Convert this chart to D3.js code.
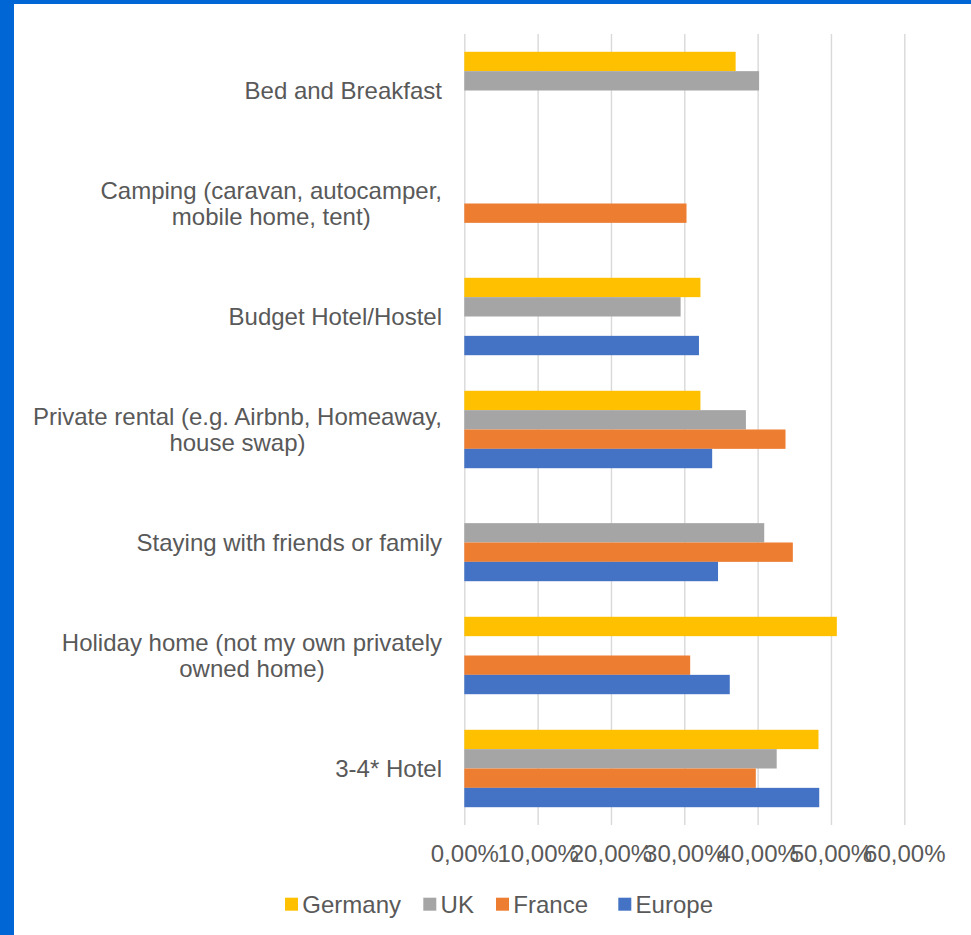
<!DOCTYPE html>
<html>
<head>
<meta charset="utf-8">
<script src="https://cdn.jsdelivr.net/npm/d3@7"></script>
<style>
  html, body { margin: 0; padding: 0; background: #fff; }
  svg { display: block; }
  text { font-family: "Liberation Sans", Arial, sans-serif; fill: #595959; }
</style>
</head>
<body>
<svg id="chart" width="971" height="935"></svg>
<script>
// Accommodation types, listed top to bottom ("\n" marks a wrapped line)
const categories = [
  "Bed and Breakfast",
  "Camping (caravan, autocamper,\nmobile home, tent)",
  "Budget Hotel/Hostel",
  "Private rental (e.g. Airbnb, Homeaway,\nhouse swap)",
  "Staying with friends or family",
  "Holiday home (not my own privately\nowned home)",
  "3-4* Hotel"
];

const seriesNames = ["Germany", "UK", "France", "Europe"];
const seriesColors = ["#FFC000", "#A5A5A5", "#ED7D31", "#4472C4"];

// Share per category (null = no bar)
const germany = [0.370, null, 0.322, 0.322, null, 0.508, 0.483];
const uk      = [0.402, null, 0.295, 0.384, 0.409, null, 0.426];
const france  = [null, 0.303, null, 0.438, 0.448, 0.308, 0.3975];
const europe  = [null, null, 0.320, 0.338, 0.346, 0.362, 0.484];

const tickValues = [0, 0.1, 0.2, 0.3, 0.4, 0.5, 0.6];

const seriesValues = [germany, uk, france, europe];

const svg = d3.select("#chart");
const W = 971, H = 935;

// Frame: blue strips on the left and top edges
svg.append("rect").attr("x", 0).attr("y", 0).attr("width", W).attr("height", H).attr("fill", "#fff");
svg.append("rect").attr("x", 0).attr("y", 0).attr("width", 14).attr("height", H).attr("fill", "#0066D6");
svg.append("rect").attr("x", 0).attr("y", 0).attr("width", W).attr("height", 4).attr("fill", "#0066D6");

const plot = { left: 464.3, right: 904.3, top: 34, bottom: 825 };
const FONT = 24;

const x = d3.scaleLinear().domain([0, 0.6]).range([plot.left, plot.right]);

const y = d3.scaleBand()
  .domain(categories)
  .range([plot.top, plot.bottom])
  .paddingInner(0.315)
  .paddingOuter(0.1575);

const ySub = d3.scaleBand()
  .domain(seriesNames)
  .range([0, y.bandwidth()])
  .padding(0);

const locale = d3.formatLocale({ decimal: ",", thousands: ".", grouping: [3], currency: ["", "€"] });
const pct = locale.format(".2%");

// Gridlines and tick labels
const xAxis = d3.axisBottom(x)
  .tickValues(tickValues)
  .tickSize(-(plot.bottom - plot.top))
  .tickPadding(20)
  .tickFormat(pct);

const gx = svg.append("g")
  .attr("transform", `translate(0,${plot.bottom})`)
  .call(xAxis);
gx.select(".domain").remove();
gx.selectAll(".tick line").attr("stroke", "#D9D9D9").attr("stroke-width", 1.4);
gx.selectAll(".tick text")
  .attr("font-size", FONT)
  .attr("font-family", "Liberation Sans, Arial, sans-serif")
  .attr("fill", "#595959");

// Bars
const rows = [];
categories.forEach((c, i) => {
  seriesNames.forEach((s, j) => {
    const v = seriesValues[j][i];
    if (v != null) rows.push({ cat: c, series: s, color: seriesColors[j], value: v });
  });
});

svg.append("g").selectAll("rect")
  .data(rows)
  .join("rect")
  .attr("x", x(0))
  .attr("y", d => y(d.cat) + ySub(d.series))
  .attr("width", d => x(d.value) - x(0))
  .attr("height", ySub.bandwidth())
  .attr("fill", d => d.color);

// Category labels: block right-aligned to the axis, wrapped lines centred
const labelRight = 442;
const lineH = 26.7;
const gl = svg.append("g");
categories.forEach(c => {
  const lines = c.split("\n");
  const cy = y(c) + y.bandwidth() / 2;
  const t = gl.append("text")
    .attr("font-size", FONT)
    .attr("text-anchor", "middle");
  const firstBase = cy - (lines.length - 1) * lineH / 2 + 8.4;
  const spans = lines.map((ln, k) =>
    t.append("tspan").attr("y", firstBase + k * lineH).text(ln));
  const maxW = d3.max(spans, s => s.node().getComputedTextLength());
  spans.forEach(s => s.attr("x", labelRight - maxW / 2));
});

// Legend
const legendX = [285, 423.3, 496, 618.3];
const lg = svg.append("g");
seriesNames.forEach((s, j) => {
  lg.append("rect")
    .attr("x", legendX[j]).attr("y", 897.7)
    .attr("width", 13).attr("height", 13)
    .attr("fill", seriesColors[j]);
  lg.append("text")
    .attr("x", legendX[j] + 17.3).attr("y", 913)
    .attr("font-size", FONT)
    .text(s);
});
</script>
</body>
</html>
